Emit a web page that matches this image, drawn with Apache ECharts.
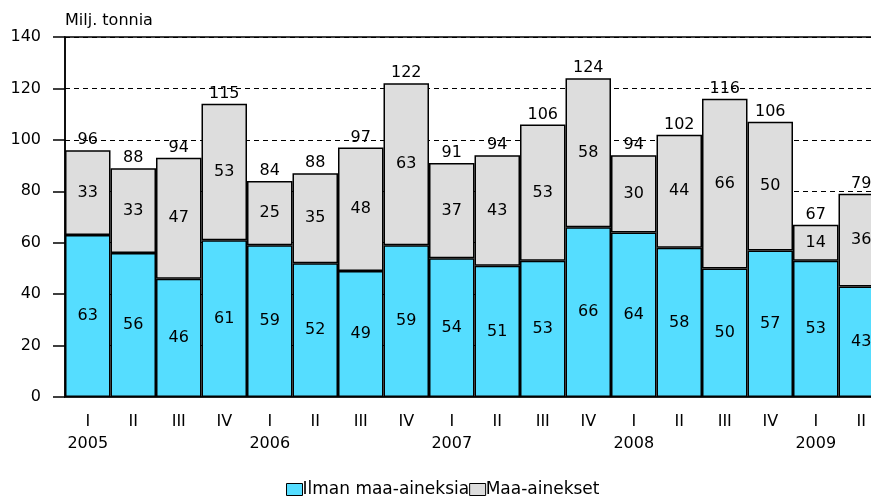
<!DOCTYPE html>
<html>
<head>
<meta charset="utf-8">
<script src="https://cdn.jsdelivr.net/npm/echarts@6/dist/echarts.min.js"></script>
<style>
    html,body{margin:0;padding:0;background:#fff;overflow:hidden;}
    #chart{width:871px;height:498px;}
</style>
</head>
<body>
<div id="chart"></div>
<script>
var quarters = ['I','II','III','IV','I','II','III','IV','I','II','III','IV','I','II','III','IV','I','II'];
var years = ['2005','','','','2006','','','','2007','','','','2008','','','','2009',''];
var ilman = [63,56,46,61,59,52,49,59,54,51,53,66,64,58,50,57,53,43];
var maa = [33,33,47,53,25,35,48,63,37,43,53,58,30,44,66,50,14,36];
var totals = [96,88,94,115,84,88,97,122,91,94,106,124,94,102,116,106,67,79];
var yTicks = [0,20,40,60,80,100,120,140];

(function(window){
    var font = 'DejaVu Sans',
        chart = echarts.init(document.getElementById('chart')),
        categories = quarters.map(function(q,i){
            return years[i] ? q + '\n' + years[i] : q;
        }),
        zeros = totals.map(function(){ return 0; });

    var option = {
        animation:false,
        title:{
            text:'Milj. tonnia',
            left:65,
            top:13,
            padding:0,
            textStyle:{fontFamily:font,fontSize:16,fontWeight:'normal',color:'#000'}
        },
        legend:{
            data:['Ilman maa-aineksia','Maa-ainekset'],
            left:286,
            top:481,
            padding:0,
            itemGap:0,
            itemWidth:16,
            itemHeight:12,
            icon:'rect',
            itemStyle:{borderColor:'#000',borderWidth:1},
            textStyle:{fontFamily:font,fontSize:17,color:'#000',padding:[0,0,0,-5]}
        },
        grid:{
            left:65,
            width:819,
            top:37,
            height:360,
            outerBoundsMode:'none',
            containLabel:false,
            show:true,
            borderColor:'#000',
            borderWidth:1.5
        },
        xAxis:{
            type:'category',
            data:categories,
            axisLine:{lineStyle:{color:'#222',width:2}},
            axisTick:{show:false},
            axisLabel:{
                fontFamily:font,fontSize:16,color:'#000',
                lineHeight:22,margin:14,interval:0
            }
        },
        yAxis:{
            type:'value',
            min:yTicks[0],
            max:yTicks[yTicks.length-1],
            interval:20,
            axisLine:{show:true,lineStyle:{color:'#000',width:1.5}},
            axisTick:{show:true,length:12,lineStyle:{color:'#000',width:1.5}},
            axisLabel:{fontFamily:font,fontSize:16,color:'#000',margin:24},
            splitLine:{lineStyle:{color:'#000',type:[5,4],width:1}}
        },
        series:[
            {
                name:'Ilman maa-aineksia',
                type:'bar',
                stack:'a',
                barCategoryGap:'0%',
                data:ilman,
                itemStyle:{color:'#55ddff',borderColor:'#000',borderWidth:1.5},
                label:{show:true,position:'inside',fontFamily:font,fontSize:16,color:'#000'}
            },
            {
                name:'Maa-ainekset',
                type:'bar',
                stack:'a',
                data:maa,
                itemStyle:{color:'#dddddd',borderColor:'#000',borderWidth:1.5},
                label:{show:true,position:'inside',fontFamily:font,fontSize:16,color:'#000'}
            },
            {
                name:'total',
                type:'bar',
                stack:'a',
                data:zeros,
                itemStyle:{color:'transparent',borderWidth:0},
                label:{
                    show:true,position:'top',distance:2,
                    fontFamily:font,fontSize:16,color:'#000',
                    formatter:function(p){ return totals[p.dataIndex]; }
                }
            }
        ]
    };
    chart.setOption(option);
})(window);
</script>
</body>
</html>
